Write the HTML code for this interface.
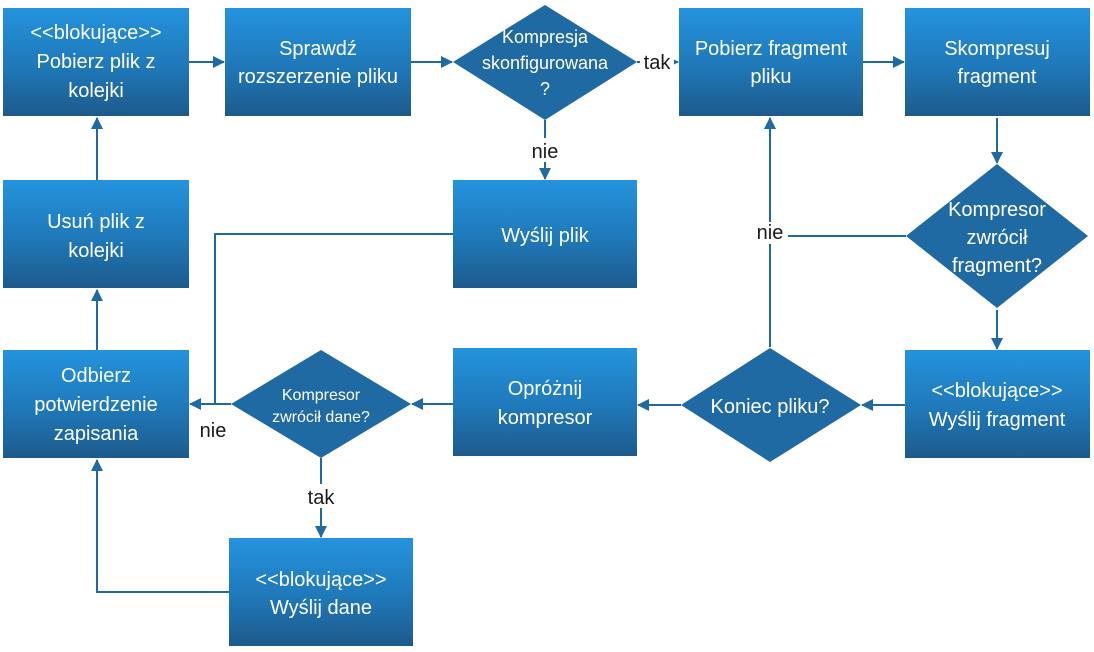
<!DOCTYPE html>
<html><head><meta charset="utf-8"><style>
html,body{margin:0;padding:0;background:#fff;width:1094px;height:652px;overflow:hidden}
svg text{font-family:"Liberation Sans",sans-serif;font-size:20px;fill:#fff;text-anchor:middle}
svg text.l{fill:#1a1a1a}
</style></head><body>
<svg width="1094" height="652" viewBox="0 0 1094 652" xmlns="http://www.w3.org/2000/svg">
<defs>
<linearGradient id="g" x1="0" y1="0" x2="0" y2="1">
<stop offset="0" stop-color="#2493de"/><stop offset="0.55" stop-color="#1f78b8"/><stop offset="1" stop-color="#1d5a8c"/>
</linearGradient>
<marker id="a" markerWidth="12" markerHeight="12" refX="11" refY="6" orient="auto" markerUnits="userSpaceOnUse">
<path d="M0,0 L12,6 L0,12 z" fill="#1f6aa2"/></marker>
</defs>
<g stroke="#1f6aa2" stroke-width="2" fill="none">
<line x1="189" y1="62" x2="224" y2="62" marker-end="url(#a)"/>
<line x1="411" y1="62" x2="452" y2="62" marker-end="url(#a)"/>
<line x1="637" y1="62" x2="678" y2="62" marker-end="url(#a)"/>
<line x1="863" y1="62" x2="904" y2="62" marker-end="url(#a)"/>
<line x1="997" y1="118" x2="997" y2="163" marker-end="url(#a)"/>
<line x1="997" y1="310" x2="997" y2="349" marker-end="url(#a)"/>
<polyline points="906,236 770,236 770,347"/>
<line x1="770" y1="236" x2="770" y2="118" marker-end="url(#a)"/>
<line x1="905" y1="405" x2="862" y2="405" marker-end="url(#a)"/>
<line x1="681" y1="405" x2="638" y2="405" marker-end="url(#a)"/>
<line x1="453" y1="404" x2="412" y2="404" marker-end="url(#a)"/>
<line x1="231" y1="404" x2="190" y2="404" marker-end="url(#a)"/>
<polyline points="453,234 215,234 215,404"/>
<line x1="321" y1="458" x2="321" y2="537" marker-end="url(#a)"/>
<polyline points="229,592 97,592 97,460" marker-end="url(#a)"/>
<line x1="97" y1="350" x2="97" y2="290" marker-end="url(#a)"/>
<line x1="97" y1="180" x2="97" y2="118" marker-end="url(#a)"/>
<line x1="545" y1="120" x2="545" y2="179" marker-end="url(#a)"/>
</g>
<g fill="#fff">
<rect x="640" y="50" width="34" height="24"/>
<rect x="752" y="222" width="36" height="22"/>
<rect x="528" y="138" width="34" height="24"/>
<rect x="303" y="484" width="36" height="24"/>
</g>
<text class="l" x="657" y="69">tak</text>
<text class="l" x="770" y="239">nie</text>
<text class="l" x="545" y="158">nie</text>
<text class="l" x="321" y="504">tak</text>
<text class="l" x="213" y="437">nie</text>
<g fill="url(#g)">
<rect x="3" y="8" width="186" height="108"/>
<rect x="225" y="8" width="186" height="108"/>
<rect x="679" y="8" width="184" height="108"/>
<rect x="905" y="8" width="185" height="108"/>
<rect x="905" y="350" width="185" height="108"/>
<rect x="453" y="348" width="184" height="108"/>
<rect x="3" y="350" width="186" height="108"/>
<rect x="3" y="180" width="186" height="108"/>
<rect x="453" y="180" width="184" height="108"/>
<rect x="229" y="538" width="184" height="108"/>
</g>
<g fill="#1f6aa2">
<polygon points="545,5 637,62 545,120 453,62"/>
<polygon points="997,164 1088,236 997,308 906,236"/>
<polygon points="770,348 861,405 770,462 681,405"/>
<polygon points="321,350 411,404 321,458 231,404"/>
</g>
<text x="96" y="39">&lt;&lt;blokujące&gt;&gt;</text>
<text x="96" y="68">Pobierz plik z</text>
<text x="96" y="97">kolejki</text>
<text x="318" y="55">Sprawdź</text>
<text x="318" y="83">rozszerzenie pliku</text>
<text x="545" y="43" style="font-size:18px">Kompresja</text>
<text x="545" y="69" style="font-size:18px">skonfigurowana</text>
<text x="545" y="95" style="font-size:18px">?</text>
<text x="771" y="55">Pobierz fragment</text>
<text x="771" y="83">pliku</text>
<text x="997" y="55">Skompresuj</text>
<text x="997" y="83">fragment</text>
<text x="997" y="216">Kompresor</text>
<text x="997" y="244">zwrócił</text>
<text x="997" y="272">fragment?</text>
<text x="997" y="397">&lt;&lt;blokujące&gt;&gt;</text>
<text x="997" y="426">Wyślij fragment</text>
<text x="770" y="413">Koniec pliku?</text>
<text x="545" y="395">Opróżnij</text>
<text x="545" y="424">kompresor</text>
<text x="321" y="400" style="font-size:16px">Kompresor</text>
<text x="321" y="422" style="font-size:16px">zwrócił dane?</text>
<text x="96" y="382">Odbierz</text>
<text x="96" y="411">potwierdzenie</text>
<text x="96" y="440">zapisania</text>
<text x="96" y="228">Usuń plik z</text>
<text x="96" y="257">kolejki</text>
<text x="545" y="242">Wyślij plik</text>
<text x="321" y="586">&lt;&lt;blokujące&gt;&gt;</text>
<text x="321" y="614">Wyślij dane</text>
</svg>
</body></html>
